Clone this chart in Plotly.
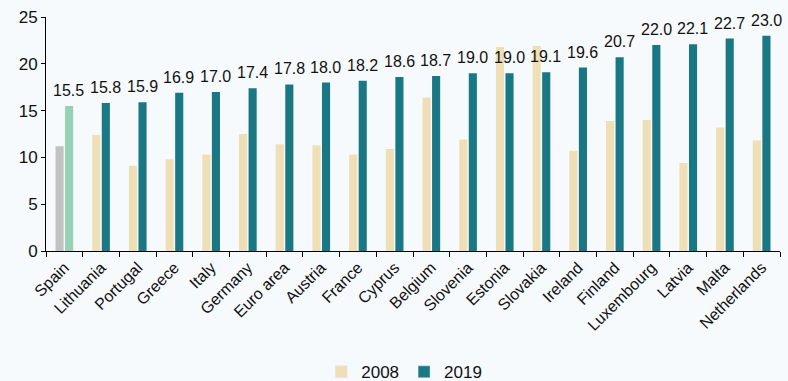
import plotly.graph_objects as go

countries = ["Spain", "Lithuania", "Portugal", "Greece", "Italy", "Germany", "Euro area",
             "Austria", "France", "Cyprus", "Belgium", "Slovenia", "Estonia", "Slovakia",
             "Ireland", "Finland", "Luxembourg", "Latvia", "Malta", "Netherlands"]
values_2008 = [11.2, 12.4, 9.1, 9.8, 10.3, 12.5, 11.4, 11.3, 10.3, 10.9, 16.4, 11.9,
               21.8, 21.9, 10.7, 13.9, 14.0, 9.4, 13.2, 11.8]
values_2019 = [15.5, 15.8, 15.9, 16.9, 17.0, 17.4, 17.8, 18.0, 18.2, 18.6, 18.7, 19.0,
               19.0, 19.1, 19.6, 20.7, 22.0, 22.1, 22.7, 23.0]

C2008 = "#EFDFB6"
C2019 = "#1A7884"
SPAIN_2008 = "#C2C2C2"
SPAIN_2019 = "#96D1B5"
BG = "#F6FAFC"
INK = "#111111"
FONT = "Liberation Sans, Arial, sans-serif"

colors_2008 = [SPAIN_2008 if c == "Spain" else C2008 for c in countries]
colors_2019 = [SPAIN_2019 if c == "Spain" else C2019 for c in countries]

fig = go.Figure()
fig.add_trace(go.Bar(x=countries, y=values_2008, name="2008", offsetgroup="a",
                     showlegend=False, marker=dict(color=colors_2008, line_width=0)))
fig.add_trace(go.Bar(x=countries, y=values_2019, name="2019", offsetgroup="b",
                     showlegend=False, marker=dict(color=colors_2019, line_width=0)))

# legend entries carry the plain series colours (Spain is highlighted separately)
fig.add_trace(go.Bar(x=[countries[0]], y=[None], name="2008", offsetgroup="a",
                     marker_color=C2008, showlegend=True))
fig.add_trace(go.Bar(x=[countries[0]], y=[None], name="2019", offsetgroup="b",
                     marker_color=C2019, showlegend=True))

# 2019 value labels above the teal bars
n = len(countries)
for i, v in enumerate(values_2019):
    fig.add_annotation(x=i, y=v, xref="x", yref="y", text=f"{v:.1f}",
                       showarrow=False, yanchor="bottom", xshift=4.5, yshift=5,
                       font=dict(family=FONT, size=16, color=INK))

fig.update_layout(
    width=788, height=381,
    margin=dict(l=46, r=8, t=17, b=130, autoexpand=False),
    paper_bgcolor=BG, plot_bgcolor=BG,
    barmode="group", bargap=0.48, bargroupgap=0.15,
    font=dict(family=FONT, size=16, color=INK),
    showlegend=True,
    legend=dict(orientation="h", x=0.513, xanchor="center", xref="container",
                y=0.023, yanchor="middle", yref="container",
                font=dict(family=FONT, size=17, color=INK),
                itemwidth=30, bgcolor="rgba(0,0,0,0)", traceorder="normal"),
    xaxis=dict(type="category", tickangle=-45, showline=True, linecolor="#000000",
               linewidth=1, ticks="outside", tickson="boundaries", ticklen=5,
               tickcolor="#000000", tickfont=dict(family=FONT, size=16, color=INK),
               showgrid=False, range=[-0.5, n - 0.5], automargin=False),
    yaxis=dict(range=[0, 25], dtick=5, showline=True, linecolor="#000000", linewidth=1,
               ticks="outside", ticklen=4, tickcolor="#000000", showgrid=False,
               zeroline=False, automargin=False,
               tickfont=dict(family=FONT, size=17, color=INK)),
)

fig.write_html("out.html")
